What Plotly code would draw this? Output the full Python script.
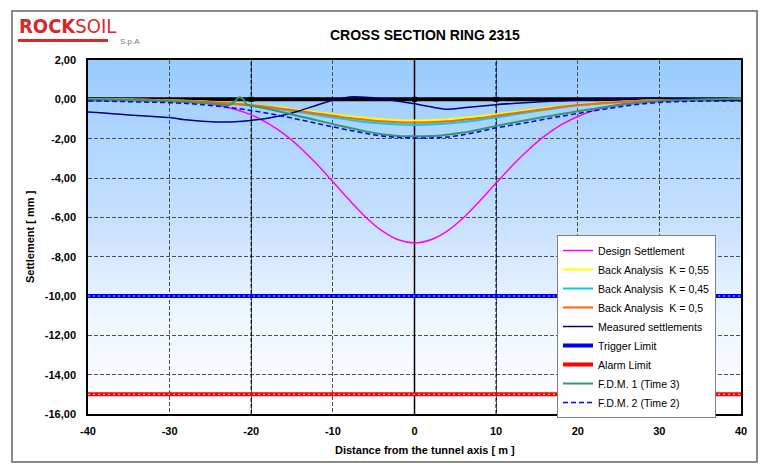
import plotly.graph_objects as go
import numpy as np

# ---------------- data ----------------
x_pts = list(range(-40, 41, 2))

design_settlement = [0, 0, 0, -0.01, -0.02, -0.05, -0.09, -0.17, -0.30, -0.50,
                     -0.79, -1.21, -1.76, -2.46, -3.28, -4.19, -5.11, -5.98, -6.68, -7.14,
                     -7.30,
                     -7.14, -6.70, -6.02, -5.17, -4.26, -3.36, -2.55, -1.85, -1.29, -0.87,
                     -0.56, -0.34, -0.20, -0.11, -0.06, -0.03, -0.01, 0, 0, 0]

back_k055 = [0, -0.01, -0.01, -0.02, -0.03, -0.05, -0.07, -0.10, -0.14, -0.20,
             -0.27, -0.35, -0.44, -0.54, -0.65, -0.76, -0.86, -0.94, -1.01, -1.05,
             -1.07,
             -1.05, -1.01, -0.94, -0.86, -0.76, -0.65, -0.54, -0.44, -0.35, -0.27,
             -0.20, -0.14, -0.10, -0.06, -0.03, -0.01, 0.0, 0.01, 0.02, 0.03]

back_k045 = [0, -0.01, -0.01, -0.02, -0.04, -0.06, -0.09, -0.12, -0.18, -0.24,
             -0.32, -0.42, -0.53, -0.66, -0.79, -0.92, -1.04, -1.15, -1.23, -1.28,
             -1.30,
             -1.28, -1.23, -1.15, -1.04, -0.92, -0.79, -0.66, -0.53, -0.42, -0.32,
             -0.24, -0.18, -0.12, -0.08, -0.05, -0.02, 0.0, 0.01, 0.02, 0.03]

back_k05 = [0, -0.01, -0.01, -0.02, -0.03, -0.05, -0.08, -0.11, -0.16, -0.22,
            -0.29, -0.38, -0.49, -0.60, -0.72, -0.83, -0.95, -1.04, -1.12, -1.16,
            -1.18,
            -1.16, -1.12, -1.04, -0.95, -0.83, -0.72, -0.60, -0.49, -0.38, -0.29,
            -0.22, -0.16, -0.11, -0.07, -0.04, -0.02, 0.0, 0.01, 0.02, 0.03]

measured = [-0.64, -0.70, -0.76, -0.82, -0.87, -0.93, -1.04, -1.11, -1.15, -1.14,
            -1.07, -0.96, -0.80, -0.57, -0.30, -0.05, 0.12, 0.11, 0.03, -0.10,
            -0.23,
            -0.38, -0.50, -0.43, -0.35, -0.27, -0.21, -0.16, -0.11, -0.08, -0.05,
            -0.02, 0.0, 0.03, 0.05, 0.05, 0.03, 0.02, 0.01, 0.0, 0.0]

limit_x = [-40, 40]
trigger_limit = [-10, -10]
alarm_limit = [-15, -15]

fdm1_x = [-40, -38, -36, -34, -32, -30, -28, -26, -24, -22.6, -22.0, -21.5, -21.0, -20.6,
          -20, -18, -16, -14, -12, -10, -8, -6, -4, -2, 0, 2, 4, 6, 8, 10, 12, 14, 16,
          18, 20, 22, 24, 26, 28, 30, 32, 34, 36, 38, 40]
fdm1_time3 = [0.0, -0.01, -0.03, -0.05, -0.07, -0.10, -0.14, -0.19, -0.24, -0.28, -0.10, 0.10,
              0.02, -0.25, -0.32, -0.48, -0.67, -0.87, -1.06, -1.26, -1.45, -1.63, -1.77,
              -1.86, -1.88, -1.87, -1.80, -1.69, -1.53, -1.35, -1.19, -1.04, -0.89, -0.75,
              -0.61, -0.48, -0.36, -0.25, -0.16, -0.10, -0.06, -0.03, -0.01, 0.0, 0.02]

fdm2_time2 = [-0.08, -0.09, -0.11, -0.13, -0.15, -0.17, -0.21, -0.27, -0.35, -0.45,
              -0.57, -0.71, -0.87, -1.04, -1.22, -1.40, -1.57, -1.73, -1.86, -1.94,
              -1.96,
              -1.96, -1.92, -1.80, -1.64, -1.45, -1.31, -1.16, -1.01, -0.86, -0.72,
              -0.58, -0.45, -0.33, -0.23, -0.16, -0.12, -0.10, -0.09, -0.08, -0.08]

ground_x = [-40, 40]
ground_y = [0, 0]
section_x = [-20, 0, 10]
section_y = [0, 0, 0]

x_ticks = list(range(-40, 41, 10))
y_ticks = list(range(-16, 3, 2))
y_ticktext = [f"{v:.2f}".replace(".", ",") for v in y_ticks]

# ---------------- figure ----------------
FONT = "Arial, Liberation Sans, sans-serif"
fig = go.Figure()

fig.add_trace(go.Scatter(x=ground_x, y=ground_y, mode="lines",
                         line=dict(color="black", width=4), showlegend=False, hoverinfo="skip"))
fig.add_trace(go.Scatter(x=section_x, y=section_y, mode="markers",
                         marker=dict(color="black", size=5, symbol="square"),
                         showlegend=False, hoverinfo="skip"))

def curve(x, y, name, color, width=2, dash="solid"):
    fig.add_trace(go.Scatter(x=x, y=y, name=name, mode="lines",
                             line=dict(color=color, width=width, dash=dash, shape="spline", smoothing=0.8)))

curve(x_pts, design_settlement, "Design Settlement", "#FF00FF", 1.5)
curve(x_pts, back_k055, "Back Analysis  K = 0,55", "#FFFF00", 2)
curve(x_pts, back_k045, "Back Analysis  K = 0,45", "#00CCFF", 2)
curve(x_pts, back_k05, "Back Analysis  K = 0,5", "#FF6600", 2)
curve(x_pts, measured, "Measured settlements", "#000080", 1.5)

fig.add_trace(go.Scatter(x=limit_x, y=trigger_limit, name="Trigger Limit", mode="lines",
                         line=dict(color="#0000FF", width=4)))
fig.add_trace(go.Scatter(x=limit_x, y=trigger_limit, mode="lines", showlegend=False, hoverinfo="skip",
                         line=dict(color="rgba(255,255,255,0.7)", width=1.2, dash="2px,3px")))
fig.add_trace(go.Scatter(x=limit_x, y=alarm_limit, name="Alarm Limit", mode="lines",
                         line=dict(color="#FF0000", width=4)))
fig.add_trace(go.Scatter(x=limit_x, y=alarm_limit, mode="lines", showlegend=False, hoverinfo="skip",
                         line=dict(color="rgba(255,255,255,0.7)", width=1.2, dash="2px,3px")))

curve(fdm1_x, fdm1_time3, "F.D.M. 1 (Time 3)", "#339966", 2)
curve(x_pts, fdm2_time2, "F.D.M. 2 (Time 2)", "#0000FF", 1.5, "5px,3px")

# ---------------- background gradient (stacked rects, no seams) ----------------
shapes = []
stops_y = [-16, -11, -6, 2]
stops_c = [(255, 255, 255), (238, 246, 255), (198, 224, 255), (153, 204, 255)]
n = 90
edges = np.linspace(-16, 2, n + 1)
for i in range(n - 1, -1, -1):
    ym = 0.5 * (edges[i] + edges[i + 1])
    c = [int(round(np.interp(ym, stops_y, [s[k] for s in stops_c]))) for k in range(3)]
    shapes.append(dict(type="rect", xref="x", yref="y", x0=-40, x1=40, y0=-16, y1=edges[i + 1],
                       fillcolor=f"rgb({c[0]},{c[1]},{c[2]})", line=dict(width=0), layer="below"))

# section vertical lines
shapes.append(dict(type="line", xref="x", yref="y", x0=0, x1=0, y0=-16, y1=2,
                   line=dict(color="black", width=1.5), layer="between"))
for sx in (-20, 10):
    shapes.append(dict(type="line", xref="x", yref="y", x0=sx, x1=sx, y0=-16, y1=2,
                       line=dict(color="black", width=1.2, dash="4px,2px"), layer="between"))

# outer chart border
L, R, T, B = 88, 741, 60, 414
W, H = R - L, B - T
def px(xp): return (xp - L) / W
def py(yp): return (B - yp) / H
shapes.append(dict(type="rect", xref="paper", yref="paper", x0=px(12), x1=px(757), y0=py(462), y1=py(11),
                   line=dict(color="#8a8a8a", width=2), fillcolor="rgba(0,0,0,0)", layer="above"))
# logo bar
shapes.append(dict(type="rect", xref="paper", yref="paper", x0=px(18), x1=px(108), y0=py(42), y1=py(39),
                   line=dict(width=0), fillcolor="#D42A2A", layer="above"))

LOGO_FONT = "Liberation Sans Narrow, DejaVu Sans Condensed, Arial"
annotations = [
    dict(text="<b>CROSS SECTION RING 2315</b>", xref="paper", yref="paper", x=px(425), y=py(35),
         showarrow=False, font=dict(family=FONT, size=14, color="black"), xanchor="center", yanchor="middle"),
    dict(text="<b>Distance from the tunnel axis [ m ]</b>", xref="paper", yref="paper", x=px(425), y=py(450),
         showarrow=False, font=dict(family=FONT, size=11, color="black"), xanchor="center", yanchor="middle"),
    dict(text="<b>Settlement [ mm ]</b>", xref="paper", yref="paper", x=px(30), y=py(237), textangle=-90,
         showarrow=False, font=dict(family=FONT, size=11, color="black"), xanchor="center", yanchor="middle"),
    dict(text="<b>ROCK</b>SOIL", xref="paper", yref="paper", x=px(17), y=py(26),
         showarrow=False, font=dict(family=LOGO_FONT, size=20, color="#D42A2A"), xanchor="left", yanchor="middle"),
    dict(text="S.p.A", xref="paper", yref="paper", x=px(118), y=py(42),
         showarrow=False, font=dict(family=FONT, size=8, color="#777777"), xanchor="left", yanchor="middle"),
]

fig.update_layout(
    width=765, height=475,
    margin=dict(l=L, r=765 - R, t=T, b=475 - B, autoexpand=False),
    paper_bgcolor="white", plot_bgcolor="white",
    font=dict(family=FONT, size=11, color="black"),
    shapes=shapes, annotations=annotations,
    showlegend=True,
    legend=dict(x=px(557), y=py(235), xanchor="left", yanchor="top",
                bgcolor="white", bordercolor="#808080", borderwidth=1,
                font=dict(family=FONT, size=10.6, color="black"),
                tracegroupgap=0, itemwidth=30),
    xaxis=dict(range=[-40, 40], tickvals=x_ticks, ticktext=[str(v) for v in x_ticks],
               showgrid=True, gridcolor="#505050", griddash="4px,2px", gridwidth=1,
               zeroline=False, showline=True, linecolor="black", linewidth=1.5, mirror=True,
               ticks="", ticklabelstandoff=6,
               tickfont=dict(family=FONT, size=11, color="black", weight="bold")),
    yaxis=dict(range=[-16, 2], tickvals=y_ticks, ticktext=y_ticktext,
               showgrid=True, gridcolor="#505050", griddash="4px,2px", gridwidth=1,
               zeroline=False, showline=True, linecolor="black", linewidth=1.5, mirror=True,
               ticks="", ticklabelstandoff=8,
               tickfont=dict(family=FONT, size=11, color="black", weight="bold")),
)

fig.write_html("out.html")
